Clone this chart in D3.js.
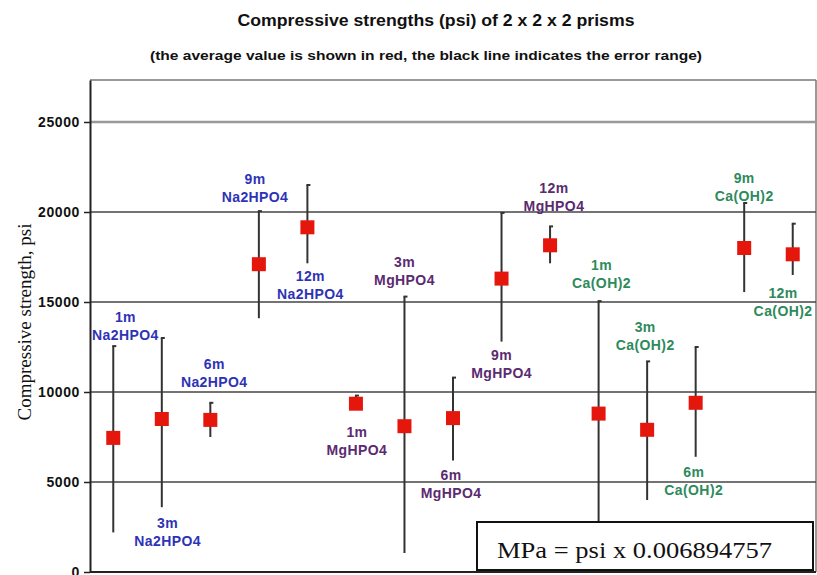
<!DOCTYPE html>
<meta charset="utf-8">
<style>
body { margin: 0; background: #fff; }
.title { font-family: "Liberation Sans Narrow", "Arial Narrow", sans-serif; font-weight: bold; text-anchor: middle; fill: #111; }
.tick-label { font: bold 14px "Liberation Sans", Arial, sans-serif; text-anchor: end; fill: #111; letter-spacing: 0.6px; }
.pt-label { font: bold 14px "Liberation Sans", Arial, sans-serif; text-anchor: middle; letter-spacing: 0.4px; }
.serif { font-family: "Liberation Serif", "Times New Roman", serif; fill: #111; }
</style>
<body>
<svg width="817" height="575"></svg>
<script src="https://cdn.jsdelivr.net/npm/d3@7"></script>
<script>
// ages and additives of the 15 prism sets
var ages = ["1m", "3m", "6m", "9m", "12m", "1m", "3m", "6m", "9m", "12m", "1m", "3m", "6m", "9m", "12m"];
var additives = ["Na2HPO4", "Na2HPO4", "Na2HPO4", "Na2HPO4", "Na2HPO4",
                 "MgHPO4", "MgHPO4", "MgHPO4", "MgHPO4", "MgHPO4",
                 "Ca(OH)2", "Ca(OH)2", "Ca(OH)2", "Ca(OH)2", "Ca(OH)2"];
// average, lowest and highest strength, psi
var average = [7450, 8500, 8450, 17100, 19150, 9350, 8100, 8550, 16300, 18150, 8800, 7900, 9400, 18000, 17650];
var low     = [2200, 3600, 7500, 14100, 17150, 9000, 1050, 6200, 12800, 17150, 2000, 4000, 6400, 15550, 16500];
var high    = [12550, 13000, 9400, 20050, 21500, 9800, 15300, 10800, 19950, 19200, 15050, 11700, 12500, 20500, 19350];
var yTicks = [0, 5000, 10000, 15000, 20000, 25000];

// where each label sits (psi) and how far it is shifted sideways (in categories)
var labelAt = [14150, 2700, 11550, 21850, 16450, 7780, 17200, 5400, 12050, 21350, 17050, 13600, 5550, 21900, 15500];
var labelShift = [0.25, 0.12, 0.08, -0.08, 0.06, 0.02, 0, -0.04, 0, 0.08, 0.06, -0.04, -0.04, 0, -0.2];

var colors = { "Na2HPO4": "#2e33b5", "MgHPO4": "#5b2a70", "Ca(OH)2": "#2e8a5b" };

(function() {
  var svg = d3.select("svg");
  var mLeft = 90, mRight = 816, mTop = 80, mBottom = 572;

  var x = d3.scaleBand().domain(d3.range(ages.length)).range([89, 817]);
  var y = d3.scaleLinear().domain([0, 27333]).range([mBottom, mTop]);
  var step = x.bandwidth();
  function cx(i) { return x(i) + step / 2; }

  // titles
  svg.append("text").attr("class", "title").attr("x", 436).attr("y", 26)
    .style("font-size", "17px").attr("textLength", 397).attr("lengthAdjust", "spacingAndGlyphs")
    .text("Compressive strengths  (psi) of 2 x 2 x 2 prisms");
  svg.append("text").attr("class", "title").attr("x", 426).attr("y", 60)
    .style("font-size", "13px").attr("textLength", 552).attr("lengthAdjust", "spacingAndGlyphs")
    .text("(the average value is shown in red, the black line indicates the error range)");

  // frame
  svg.append("line").attr("x1", mLeft).attr("x2", mRight).attr("y1", mTop).attr("y2", mTop)
    .attr("stroke", "#777").attr("stroke-width", 1.5);
  svg.append("line").attr("x1", mRight).attr("x2", mRight).attr("y1", mTop).attr("y2", mBottom)
    .attr("stroke", "#777").attr("stroke-width", 1.5);

  // grid lines
  svg.selectAll(".grid").data(yTicks.slice(1)).enter().append("line")
    .attr("x1", mLeft).attr("x2", mRight)
    .attr("y1", function(d) { return y(d); }).attr("y2", function(d) { return y(d); })
    .attr("stroke", function(d) { return d == 25000 ? "#999" : "#444"; })
    .attr("stroke-width", function(d) { return d == 25000 ? 2.5 : 1.6; });

  // y axis
  var yAxis = d3.axisLeft(y).tickValues(yTicks).tickSizeInner(6).tickSizeOuter(0)
    .tickPadding(4).tickFormat(d3.format("d"));
  var ga = svg.append("g").attr("transform", "translate(" + mLeft + ",0)").call(yAxis);
  ga.attr("font-size", null).attr("font-family", null);
  ga.select(".domain").attr("stroke", "#222").attr("stroke-width", 2);
  ga.selectAll(".tick line").attr("stroke", "#222").attr("stroke-width", 1.5);
  ga.selectAll(".tick text").attr("class", "tick-label");

  svg.append("line").attr("x1", mLeft).attr("x2", mRight).attr("y1", mBottom).attr("y2", mBottom)
    .attr("stroke", "#222").attr("stroke-width", 2);

  svg.append("text").attr("class", "serif")
    .attr("transform", "translate(31,322) rotate(-90)")
    .attr("text-anchor", "middle").style("font-size", "19px")
    .text("Compressive strength, psi");

  // error bars
  var g = svg.append("g");
  var idx = d3.range(ages.length);
  g.selectAll(".err").data(idx).enter().append("line")
    .attr("x1", cx).attr("x2", cx)
    .attr("y1", function(i) { return y(high[i]); })
    .attr("y2", function(i) { return y(low[i]); })
    .attr("stroke", "#333").attr("stroke-width", 2);
  g.selectAll(".cap").data(idx).enter().append("line")
    .attr("x1", function(i) { return cx(i) - 1; }).attr("x2", function(i) { return cx(i) + 3; })
    .attr("y1", function(i) { return y(high[i]); })
    .attr("y2", function(i) { return y(high[i]); })
    .attr("stroke", "#333").attr("stroke-width", 2);

  // averages
  g.selectAll(".avg").data(idx).enter().append("rect")
    .attr("x", function(i) { return cx(i) - 7; })
    .attr("y", function(i) { return y(average[i]) - 7; })
    .attr("width", 14).attr("height", 14)
    .attr("fill", "#e5170d");

  // labels
  var lab = svg.selectAll(".pt-label").data(idx).enter().append("text")
    .attr("class", "pt-label")
    .attr("fill", function(i) { return colors[additives[i]]; })
    .attr("transform", function(i) {
      return "translate(" + (cx(i) + labelShift[i] * step) + "," + (y(labelAt[i]) + 5) + ")";
    });
  lab.append("tspan").attr("x", 0).attr("y", 0).text(function(i) { return ages[i]; });
  lab.append("tspan").attr("x", 0).attr("y", 18).text(function(i) { return additives[i]; });

  // conversion note
  svg.append("rect").attr("x", 477).attr("y", 522).attr("width", 336).attr("height", 48)
    .attr("fill", "#fff").attr("stroke", "#111").attr("stroke-width", 2);
  svg.append("text").attr("class", "serif").attr("x", 497).attr("y", 558)
    .style("font-size", "23px").attr("textLength", 275).attr("lengthAdjust", "spacingAndGlyphs")
    .text("MPa = psi x 0.006894757");
})();
</script>
</body>
